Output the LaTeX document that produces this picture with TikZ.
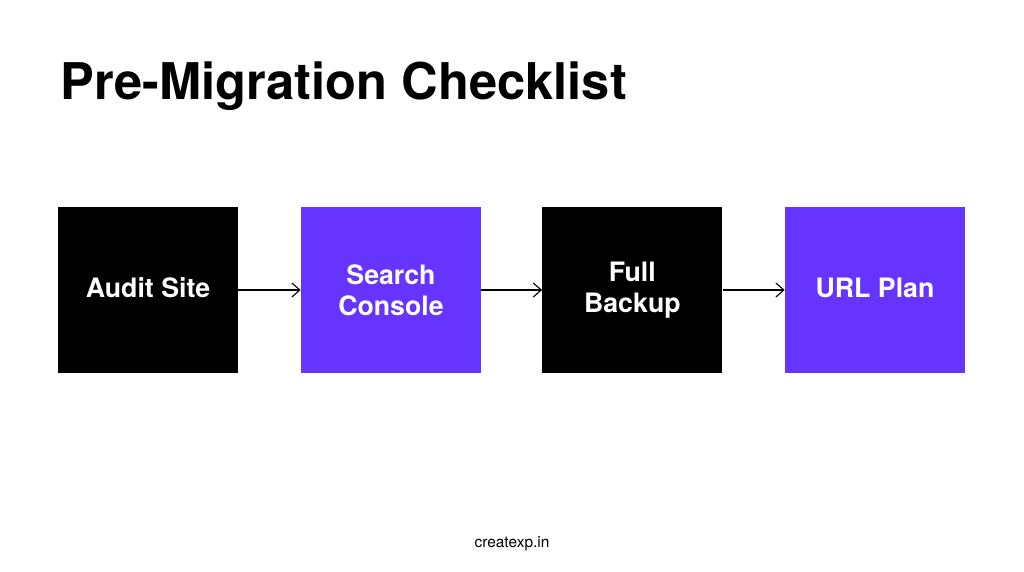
\documentclass[tikz,border=0pt]{standalone}
\usepackage{fontspec}
\setmainfont{TeX Gyre Heros}
\usetikzlibrary{positioning,arrows.meta}
\definecolor{violet}{HTML}{6633FF}
\begin{document}
\begin{tikzpicture}
    [step box/.style={rectangle,minimum width=4.5cm,minimum height=4.15cm,
        inner sep=0pt,text=white,align=center,font=\fontsize{19}{22}\selectfont\bfseries},
    dark/.style={step box,fill=black},
    accent/.style={step box,fill=violet},
    link/.style={-{Straight Barb[length=2mm,width=3.5mm]},thick}]

    \useasboundingbox[fill=white] (0,0) rectangle (25.6,14.3);
    \node[anchor=base west,font=\fontsize{36}{40}\selectfont\bfseries] (title) at (1.4,11.8) {Pre-Migration Checklist};

    \node[dark,text depth=0.1cm] (audit) at (3.7,7.05) {Audit Site};
    \node[accent] (console) at (9.775,7.05) {Search\\Console};
    \node[dark] (backup) at (15.81,7.05) {Full\\Backup};
    \node[accent,text depth=0.1cm] (plan) at (21.875,7.05) {URL Plan};

    \draw[link] (audit) -- (console);
    \draw[link] (console) -- (backup);
    \draw[link] (backup) -- (plan);

    \node[font=\fontsize{11}{13}\selectfont] (footer) at (12.8,0.7) {createxp.in};
\end{tikzpicture}
\end{document}
